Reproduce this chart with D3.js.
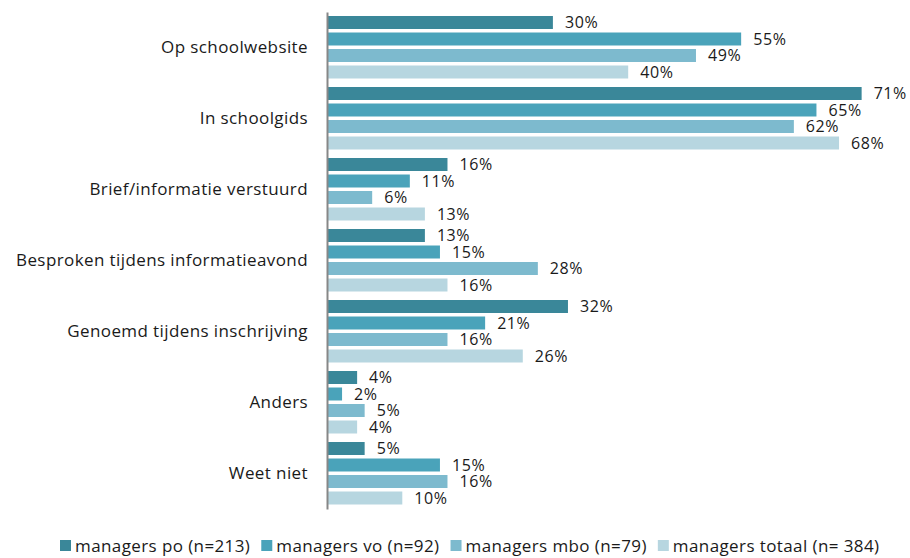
<!DOCTYPE html>
<html>
<head>
<meta charset="utf-8">
<script src="https://cdn.jsdelivr.net/npm/d3@7"></script>
<style>
  body { margin: 0; background: #fff; }
  text { font-family: "Open Sans", sans-serif; fill: #1a1a1a; font-size: 17px; letter-spacing: 0.4px; }
  text.val { font-size: 16px; letter-spacing: 0.6px; }
</style>
</head>
<body>
<div class="chart"></div>
<script>
// categorieën en reeksen
const categories = ['Op schoolwebsite', 'In schoolgids', 'Brief/informatie verstuurd',
  'Besproken tijdens informatieavond', 'Genoemd tijdens inschrijving', 'Anders', 'Weet niet']
const seriesNames = ['managers po (n=213)', 'managers vo (n=92)', 'managers mbo (n=79)', 'managers totaal (n= 384)']
const po = [30, 71, 16, 13, 32, 4, 5]
const vo = [55, 65, 11, 15, 21, 2, 15]
const mbo = [49, 62, 6, 28, 16, 5, 16]
const totaal = [40, 68, 13, 16, 26, 4, 10]
const colors = ['#3a8799', '#4aa3ba', '#7dbace', '#b7d6e0']

const width = 910, height = 558
const plotLeft = 327, plotTop = 12, plotBottom = 509

const seriesValues = [po, vo, mbo, totaal]
const data = categories.map((c, i) => ({
  cat: c,
  vals: seriesValues.map((s, j) => ({ key: j, v: s[i] }))
}))

const svg = d3.select('.chart')
  .append('svg')
  .attr('width', width)
  .attr('height', height)

// schalen
const xScale = d3.scaleLinear().domain([0, 100]).range([plotLeft, plotLeft + 753])
const yScale = d3.scaleBand().domain(categories).range([plotTop, plotBottom])
const inner = d3.scaleBand().domain([0, 1, 2, 3])
  .range([4, 66.5]).paddingInner(0.212).paddingOuter(0)

const groups = svg.selectAll('g.group')
  .data(data)
  .enter()
  .append('g')
  .attr('class', 'group')
  .attr('transform', d => `translate(0,${yScale(d.cat)})`)

groups.selectAll('rect')
  .data(d => d.vals)
  .enter()
  .append('rect')
  .attr('x', xScale(0))
  .attr('y', d => inner(d.key))
  .attr('width', d => xScale(d.v) - xScale(0))
  .attr('height', inner.bandwidth())
  .attr('fill', d => colors[d.key])

groups.selectAll('text.val')
  .data(d => d.vals)
  .enter()
  .append('text')
  .attr('class', 'val')
  .attr('x', d => xScale(d.v) + 12)
  .attr('y', d => inner(d.key) + inner.bandwidth() / 2)
  .attr('dy', '0.35em')
  .text(d => d.v + '%')

// as met categorieën
const yAxis = d3.axisLeft(yScale).tickSize(0).tickPadding(19)
svg.append('g')
  .attr('transform', `translate(${plotLeft},0)`)
  .call(yAxis)
  .call(g => g.select('.domain').attr('stroke', '#878787').attr('stroke-width', 2))
  .call(g => g.selectAll('text').attr('fill', '#1a1a1a'))
svg.selectAll('g[font-size]').attr('font-size', null).attr('font-family', null)

// legenda
const legend = svg.append('g').attr('transform', 'translate(0,546)')
let lx = 60
seriesNames.forEach((name, i) => {
  const item = legend.append('g').attr('transform', `translate(${lx},0)`)
  item.append('rect')
    .attr('x', 0).attr('y', -6)
    .attr('width', 11).attr('height', 11)
    .attr('fill', colors[i])
  const t = item.append('text')
    .attr('x', 15)
    .attr('dy', '0.35em')
    .text(name)
  lx += 15 + t.node().getComputedTextLength() + 11
})
</script>
</body>
</html>
